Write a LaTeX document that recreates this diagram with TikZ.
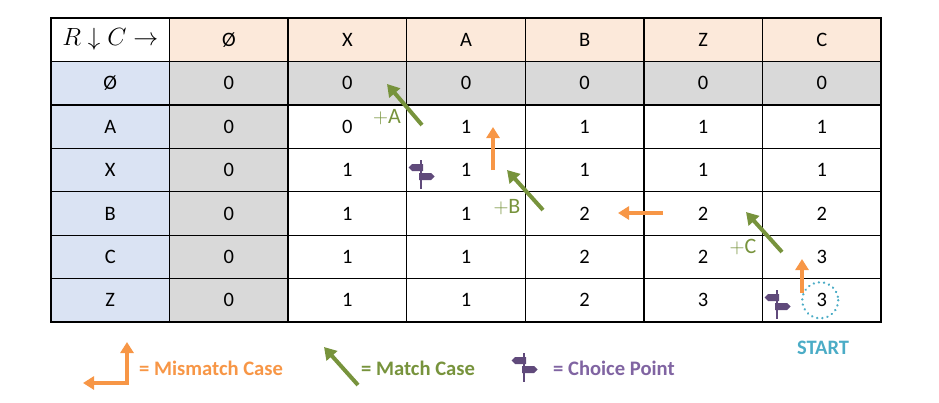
\documentclass[tikz,border=0pt]{standalone}
\usepackage{fontspec}
\setmainfont{Carlito}
\usetikzlibrary{arrows.meta}
\definecolor{hdrfill}{HTML}{FCE9DA}
\definecolor{sidefill}{HTML}{DAE3F3}
\definecolor{zerofill}{HTML}{D9D9D9}
\definecolor{misc}{HTML}{F79646}
\definecolor{matc}{HTML}{77933C}
\definecolor{signc}{HTML}{604A7B}
\definecolor{choicetxt}{HTML}{8064A2}
\definecolor{startc}{HTML}{4BACC6}
\newcommand\hdrlabel{\fontsize{23}{27}\selectfont$R\downarrow C\rightarrow$}
\tikzset{
  gridline/.style={line width=1.3pt, black},
  cell/.style={inner sep=0pt, font=\fontsize{20.5}{24}\selectfont},
  matcharrow/.style={draw=matc, line width=4pt, -{Triangle[width=14pt,length=12pt]}},
  misarrow/.style={draw=misc, line width=3.5pt, -{Triangle[width=13pt,length=11pt]}},
  steplabel/.style={text=matc, inner sep=0pt, font=\fontsize{22}{26}\selectfont},
  legendtext/.style={anchor=west, inner sep=0pt, font=\fontsize{20.6}{24}\selectfont\bfseries},
  ring/.style={draw=startc, line width=2.6pt, line cap=round, dash pattern=on 0.01pt off 5.2pt},
  signpost/.pic={
    \fill[signc] (-1.4,0) rectangle (1.4,29);
    \fill[signc] (2,4) -- (-9,4) -- (-12.5,7.5) -- (-9,11) -- (2,11) -- cycle;
    \fill[signc] (-2,13) -- (10,13) -- (13.5,16.5) -- (10,20) -- (-2,20) -- cycle;
  }
}
\begin{document}
\begin{tikzpicture}[x=1pt,y=-1pt]
\useasboundingbox (0,0) rectangle (939,402);
% fills
\fill[hdrfill] (169.571,18) rectangle (881,61.43);
\fill[sidefill] (51,61.43) rectangle (169.571,322);
\fill[zerofill] (169.571,61.43) rectangle (881,104.86);
\fill[zerofill] (169.571,104.86) rectangle (288.143,322);
% grid
\foreach \i in {0,...,7} {
  \draw[gridline] ({51+118.571*\i},18) -- ({51+118.571*\i},322);
  \draw[gridline] (51,{18+43.43*\i}) -- (881,{18+43.43*\i});
}
\draw[line width=1.6pt] (51,18) rectangle (881,322);
% cell texts
\foreach \row [count=\r from 0] in {
  {\hdrlabel,Ø,X,A,B,Z,C},
  {Ø,0,0,0,0,0,0},
  {A,0,0,1,1,1,1},
  {X,0,1,1,1,1,1},
  {B,0,1,1,2,2,2},
  {C,0,1,1,2,2,3},
  {Z,0,1,1,2,3,3}} {
  \foreach \v [count=\c from 0] in \row {
    \node[cell] (n-\r-\c) at ({110.29+118.571*\c},{39.7+43.43*\r}) {\v};
  }
}
% arrow end points
\coordinate (g1s) at (422,125); \coordinate (g1e) at (387,84);
\coordinate (g2s) at (543,210); \coordinate (g2e) at (507,170);
\coordinate (g3s) at (782,252); \coordinate (g3e) at (746,212);
\coordinate (o1s) at (493,170); \coordinate (o1e) at (493,127);
\coordinate (o2s) at (663,213); \coordinate (o2e) at (618,213);
\coordinate (o3s) at (802,293); \coordinate (o3e) at (802,259);
\draw[matcharrow] (g1s) -- (g1e);
\draw[matcharrow] (g2s) -- (g2e);
\draw[matcharrow] (g3s) -- (g3e);
\draw[misarrow] (o1s) -- (o1e);
\draw[misarrow] (o2s) -- (o2e);
\draw[misarrow] (o3s) -- (o3e);
\node[steplabel] (la) at (387,117) {$+\mathrm{A}$};
\node[steplabel] (lb) at (507,207) {$+\mathrm{B}$};
\node[steplabel] (lc) at (743,247) {$+\mathrm{C}$};
% choice points
\pic at (421,160) {signpost};
\pic at (777,290) {signpost};
% start ring
\draw[ring] (n-6-6.center) ++(-1.5,0) circle (18);
\node[cell, font=\fontsize{20.5}{24}\selectfont\bfseries, text=startc] (start) at (823,348) {START};
% legend
\coordinate (lh) at (83,383); \coordinate (lcorner) at (127,383); \coordinate (lv) at (127,342);
\draw[misarrow, {Triangle[width=13pt,length=11pt]}-{Triangle[width=13pt,length=11pt]}, line join=miter] (lh) -- (lcorner) -- (lv);
\node[legendtext, text=misc] (lm) at (139,368) {= Mismatch Case};
\coordinate (lgs) at (358,385); \coordinate (lge) at (324,347);
\draw[matcharrow] (lgs) -- (lge);
\node[legendtext, text=matc] (lmc) at (361,368) {= Match Case};
\pic at (524,353) {signpost};
\node[legendtext, text=choicetxt] (lcp) at (553,368) {= Choice Point};
\end{tikzpicture}
\end{document}
